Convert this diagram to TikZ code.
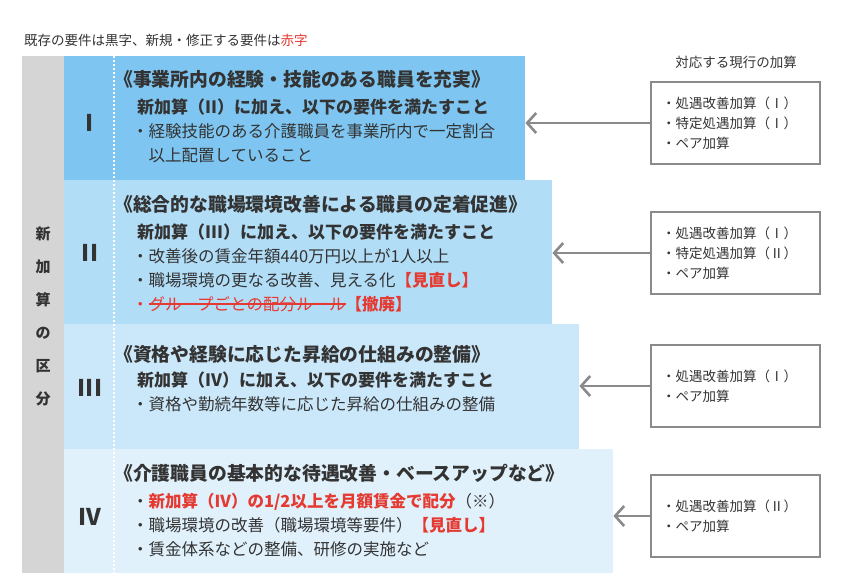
\documentclass[tikz,border=0pt]{standalone}
\usepackage{fontspec}
\setmainfont{Noto Sans CJK JP}
\usetikzlibrary{arrows.meta}
\definecolor{colI}{HTML}{7EC6F1}
\definecolor{colII}{HTML}{B2DDF7}
\definecolor{colIII}{HTML}{CBE8FA}
\definecolor{colIV}{HTML}{E1F1FB}
\definecolor{sidegray}{HTML}{D5D5D5}
\definecolor{linegray}{HTML}{8A8A8A}
\definecolor{ink}{HTML}{333333}
\definecolor{newred}{HTML}{E53A32}
\newcommand{\fs}[2]{\fontsize{#1}{#2}\selectfont}
\newsavebox{\strikebox}
\newcommand{\strike}[1]{\sbox{\strikebox}{#1}\rlap{\rule[0.33em]{\wd\strikebox}{1.4pt}}\usebox{\strikebox}}
\tikzset{
  band/.style={anchor=north west,inner sep=0pt,draw=none},
  txt/.style={anchor=west,inner sep=0pt,text=ink},
  headline/.style={txt,font=\bfseries\fs{18.8}{19}},
  subline/.style={txt,font=\bfseries\fs{17}{17}},
  itemlist/.style={txt,align=left,font=\fs{16.5}{24}},
  numeral/.style={inner sep=0pt,text=ink,font=\bfseries\fs{23}{23}},
  curbox/.style={draw=linegray,line width=2.6pt,minimum width=169pt,minimum height=82pt,
    text width=147pt,align=left,inner sep=0pt,text=ink,font=\fs{13.5}{20}},
  link/.style={draw=linegray,line width=2.6pt}
}
\begin{document}
\begin{tikzpicture}[x=1pt,y=-1pt,>={Straight Barb[length=9pt,width=20pt]}]
  \fill[white] (0,0) rectangle (848,582);
  \useasboundingbox (0,0) rectangle (848,582);
  % legend and column title
  \node[txt,font=\fs{13.5}{14}] (legend) at (24,40) {既存の要件は黒字、新規・修正する要件は\textcolor{newred}{赤字}};
  \node[inner sep=0pt,text=ink,font=\fs{13.5}{14}] (curlabel) at (736,62) {対応する現行の加算};
  % bands
  \node[band,fill=colI,minimum width=461pt,minimum height=124pt] (bandI) at (64,56) {};
  \node[band,fill=colII,minimum width=488pt,minimum height=144pt] (bandII) at (64,180) {};
  \node[band,fill=colIII,minimum width=515pt,minimum height=125pt] (bandIII) at (64,324) {};
  \node[band,fill=colIV,minimum width=549pt,minimum height=124pt] (bandIV) at (64,449) {};
  \fill[sidegray] (22,56) rectangle (64,573);
  \node[inner sep=0pt,align=center,text=ink,font=\bfseries\fs{15}{33}] (side) at (43,316) {新\\加\\算\\の\\区\\分};
  \draw[white,line width=2pt,dash pattern=on 2pt off 2pt] (114,56) -- (114,573);
  \foreach \n/\y in {I/123,II/253,III/388,IV/517}
    \node[numeral] (num\n) at (90,\y) {\n};
  % band I
  \node[headline] (headI) at (114,79) {《事業所内の経験・技能のある職員を充実》};
  \node[subline] (subI) at (137,107) {新加算（II）に加え、以下の要件を満たすこと};
  \node[itemlist] (itemsI) at (132,143) {・経験技能のある介護職員を事業所内で一定割合\\\phantom{・}以上配置していること};
  % band II
  \node[headline] (headII) at (114,204) {《総合的な職場環境改善による職員の定着促進》};
  \node[subline] (subII) at (137,232) {新加算（III）に加え、以下の要件を満たすこと};
  \node[itemlist] (itemsII) at (132,280) {・改善後の賃金年額440万円以上が1人以上\\・職場環境の更なる改善、見える化\textcolor{newred}{\bfseries【見直し】}\\\textcolor{newred}{・\strike{グループごとの配分ルール}\bfseries【撤廃】}};
  % band III
  \node[headline] (headIII) at (114,354) {《資格や経験に応じた昇給の仕組みの整備》};
  \node[subline] (subIII) at (137,380) {新加算（IV）に加え、以下の要件を満たすこと};
  \node[itemlist] (itemsIII) at (132,404) {・資格や勤続年数等に応じた昇給の仕組みの整備};
  % band IV
  \node[headline] (headIV) at (114,473) {《介護職員の基本的な待遇改善・ベースアップなど》};
  \node[itemlist] (itemsIV) at (132,525) {・\textcolor{newred}{\bfseries 新加算（IV）の1/2以上を月額賃金で配分}（※）\\・職場環境の改善（職場環境等要件）\textcolor{newred}{\bfseries【見直し】}\\・賃金体系などの整備、研修の実施など};
  % current additions
  \node[curbox] (curI) at (735.5,123) {・処遇改善加算（Ⅰ）\\・特定処遇加算（Ⅰ）\\・ペア加算};
  \node[curbox] (curII) at (735.5,253) {・処遇改善加算（Ⅰ）\\・特定処遇加算（Ⅱ）\\・ペア加算};
  \node[curbox] (curIII) at (735.5,386) {・処遇改善加算（Ⅰ）\\・ペア加算};
  \node[curbox] (curIV) at (735.5,516) {・処遇改善加算（Ⅱ）\\・ペア加算};
  \foreach \n in {I,II,III,IV}
    \draw[link,->] (cur\n.west) -- (cur\n.west -| band\n.east);
\end{tikzpicture}
\end{document}
